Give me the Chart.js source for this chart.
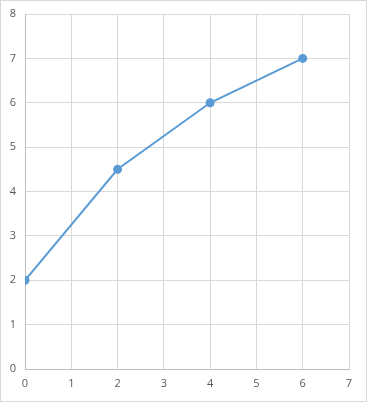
<!DOCTYPE html>
<html>
<head>
<meta charset="utf-8">
<script src="https://cdn.jsdelivr.net/npm/chart.js@4"></script>
<style>
  html, body { margin: 0; padding: 0; background: #fff; }
  #cadre { width: 365px; height: 400px; border: 1px solid #d9d9d9; background: #fff; }
  canvas { display: block; }
</style>
</head>
<body>
<div id="cadre"><canvas id="graphique" width="365" height="400"></canvas></div>
<script>
// donnees
const valeursX = [0, 2, 4, 6];
const valeursY = [2, 4.5, 6, 7];
const ticksX = [0, 1, 2, 3, 4, 5, 6, 7];
const ticksY = [0, 1, 2, 3, 4, 5, 6, 7, 8];

const points = valeursX.map((x, i) => ({ x: x, y: valeursY[i] }));

new Chart(document.getElementById('graphique'), {
    type: 'scatter',
    data: {
        datasets: [{
            data: points,
            showLine: true,
            borderColor: '#5b9bd5',
            backgroundColor: '#5b9bd5',
            borderWidth: 2,
            pointRadius: 3.5,
            pointHoverRadius: 3.5,
        }]
    },
    options: {
        responsive: false,
        animation: false,
        devicePixelRatio: 1,
        layout: { padding: { top: 13, right: 17, left: 0, bottom: 0 } },
        plugins: { legend: { display: false }, tooltip: { enabled: false } },
        scales: {
            x: {
                type: 'linear',
                min: ticksX[0],
                max: ticksX[ticksX.length - 1],
                afterBuildTicks: axis => { axis.ticks = ticksX.map(v => ({ value: v })); },
                afterFit: axis => { axis.height = 32; axis.paddingLeft = 0; axis.paddingRight = 0; },
                grid: { color: '#d9d9d9', drawTicks: false },
                border: { color: '#bfbfbf' },
                ticks: { color: '#595959', padding: 8, autoSkip: false, font: { family: 'Open Sans', size: 11 } },
            },
            y: {
                min: ticksY[0],
                max: ticksY[ticksY.length - 1],
                afterBuildTicks: axis => { axis.ticks = ticksY.map(v => ({ value: v })); },
                afterFit: axis => { axis.width = 24; axis.paddingTop = 0; axis.paddingBottom = 0; },
                grid: { color: '#d9d9d9', drawTicks: false },
                border: { color: '#bfbfbf' },
                ticks: { color: '#595959', padding: 9, autoSkip: false, font: { family: 'Open Sans', size: 11 } },
            },
        },
    },
});
</script>
</body>
</html>
